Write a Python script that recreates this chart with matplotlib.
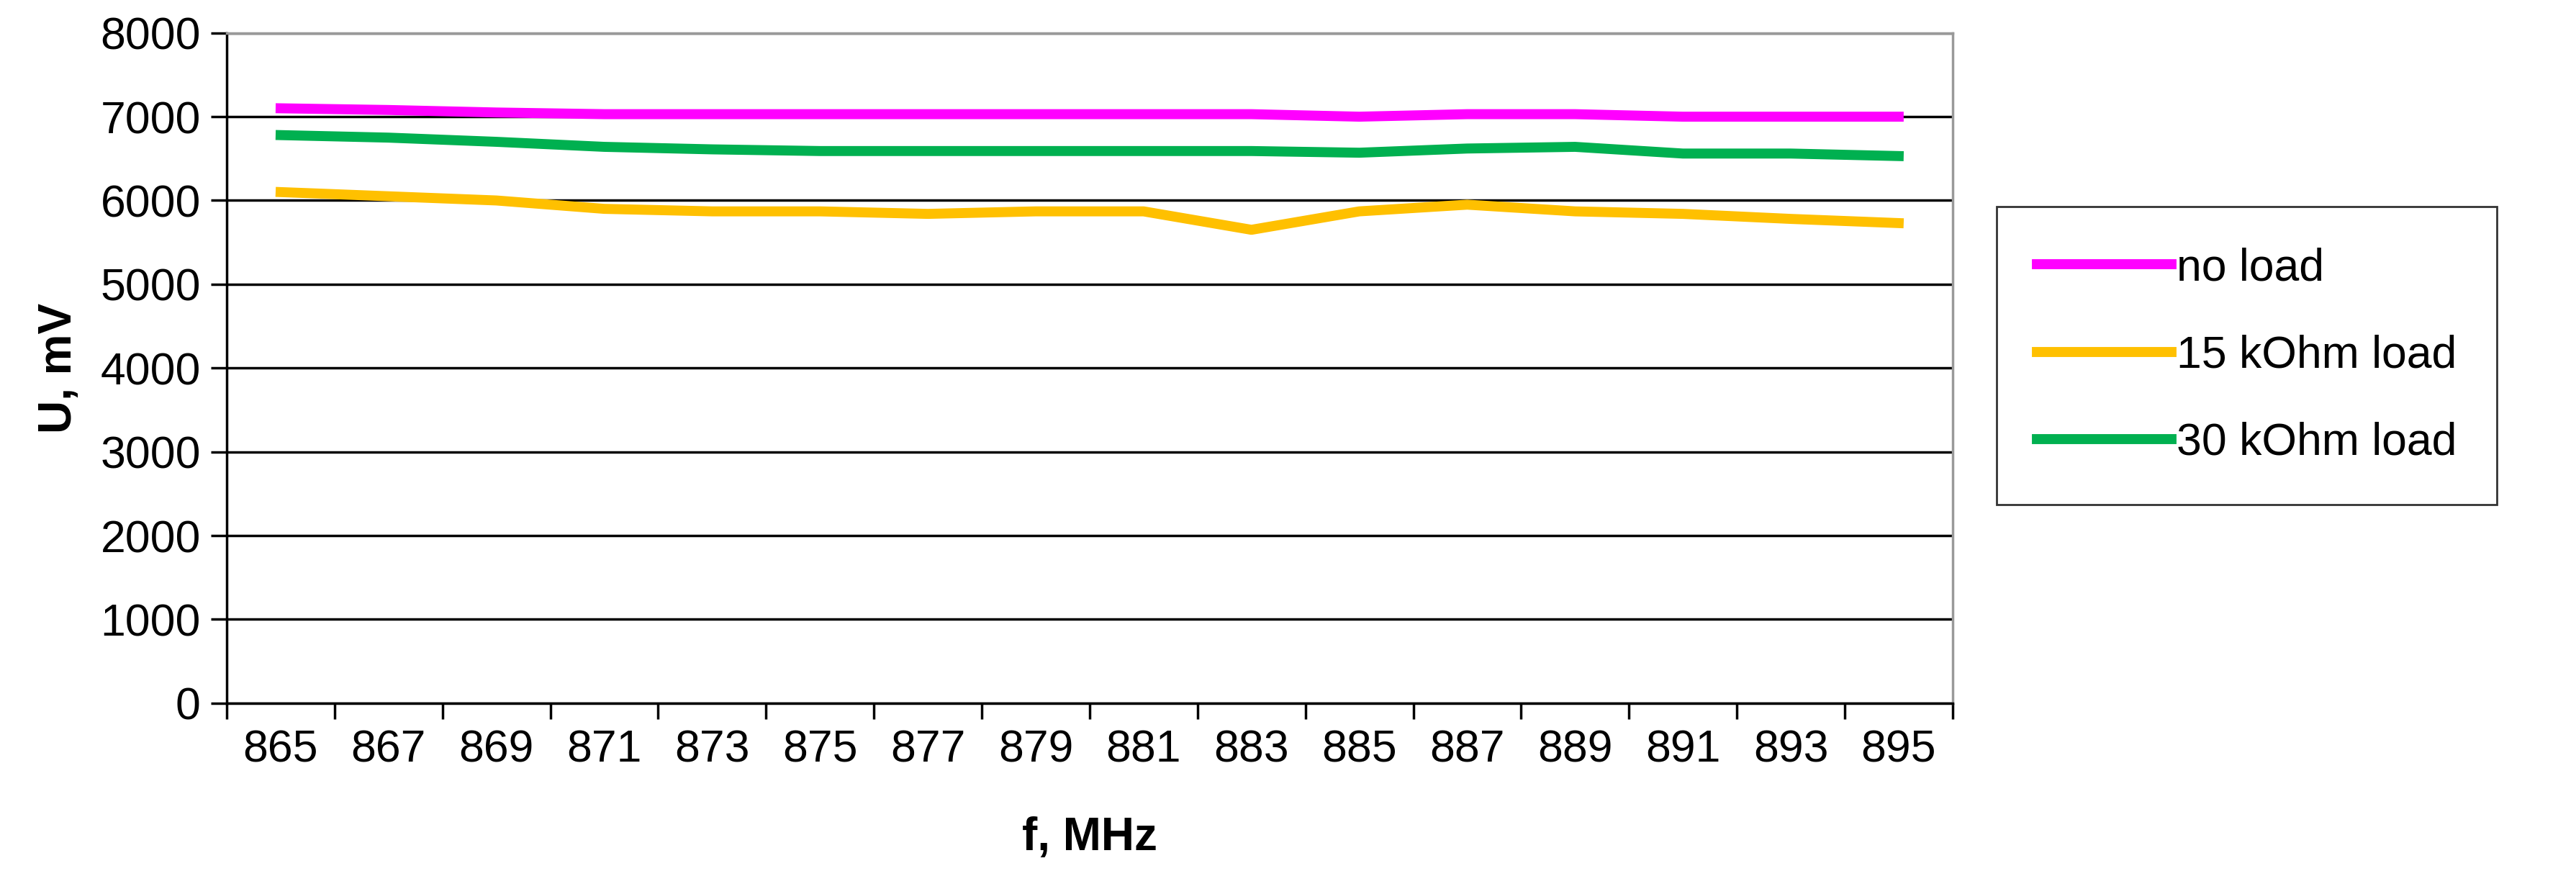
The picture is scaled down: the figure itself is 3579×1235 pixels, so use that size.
import matplotlib.pyplot as plt
import numpy as np

plt.rcParams['font.family'] = ['Liberation Sans', 'DejaVu Sans']

freqs = [865, 867, 869, 871, 873, 875, 877, 879, 881, 883, 885, 887, 889, 891, 893, 895]
no_load = [7100, 7080, 7050, 7030, 7030, 7030, 7030, 7030, 7030, 7030, 7000, 7030, 7030, 7000, 7000, 7000]
load_15k = [6100, 6050, 6000, 5900, 5870, 5870, 5840, 5870, 5870, 5650, 5870, 5950, 5870, 5840, 5780, 5730]
load_30k = [6780, 6750, 6700, 6640, 6610, 6590, 6590, 6590, 6590, 6590, 6570, 6620, 6640, 6560, 6560, 6530]

fig = plt.figure(figsize=(35.79, 12.35), dpi=100)
ax = fig.add_axes([0.088, 0.209, 0.67, 0.754])

x = np.arange(len(freqs))
ax.plot(x, no_load, color="#ff00ff", linewidth=10, label="no load")
ax.plot(x, load_15k, color="#ffc000", linewidth=10, label="15 kOhm load")
ax.plot(x, load_30k, color="#00b050", linewidth=10, label="30 kOhm load")

ax.set_xlim(-0.5, len(freqs) - 0.5)
ax.set_ylim(0, 8000)
ax.set_yticks(range(0, 8001, 1000))
ax.set_xticks(x)
ax.set_xticklabels([str(f) for f in freqs])
ax.set_xticks(np.arange(-0.5, len(freqs), 1), minor=True)
ax.tick_params(axis='x', which='major', length=0, pad=26, labelsize=45)
ax.tick_params(axis='x', which='minor', length=16, width=2.5, direction='out')
ax.tick_params(axis='y', length=16, width=2.5, labelsize=45, pad=10)
ax.grid(axis='y', color='black', linewidth=2.5)
ax.set_axisbelow(True)
for s in ['left', 'bottom']:
    ax.spines[s].set_color('black')
    ax.spines[s].set_linewidth(2.5)
for s in ['right', 'top']:
    ax.spines[s].set_color('#999999')
    ax.spines[s].set_linewidth(2.5)

ax.set_xlabel("f, MHz", fontsize=46, fontweight='bold', labelpad=45)
ax.set_ylabel("U, mV", fontsize=46, fontweight='bold', labelpad=20)

leg = fig.legend(loc='center left', bbox_to_anchor=(0.775, 0.6), fontsize=45,
                 frameon=True, fancybox=False, edgecolor='black', handlelength=3,
                 labelspacing=1.0, borderpad=0.9, handletextpad=0.1,
                 borderaxespad=0)
leg.get_frame().set_linewidth(2)

fig.savefig("out.png", dpi=100)
